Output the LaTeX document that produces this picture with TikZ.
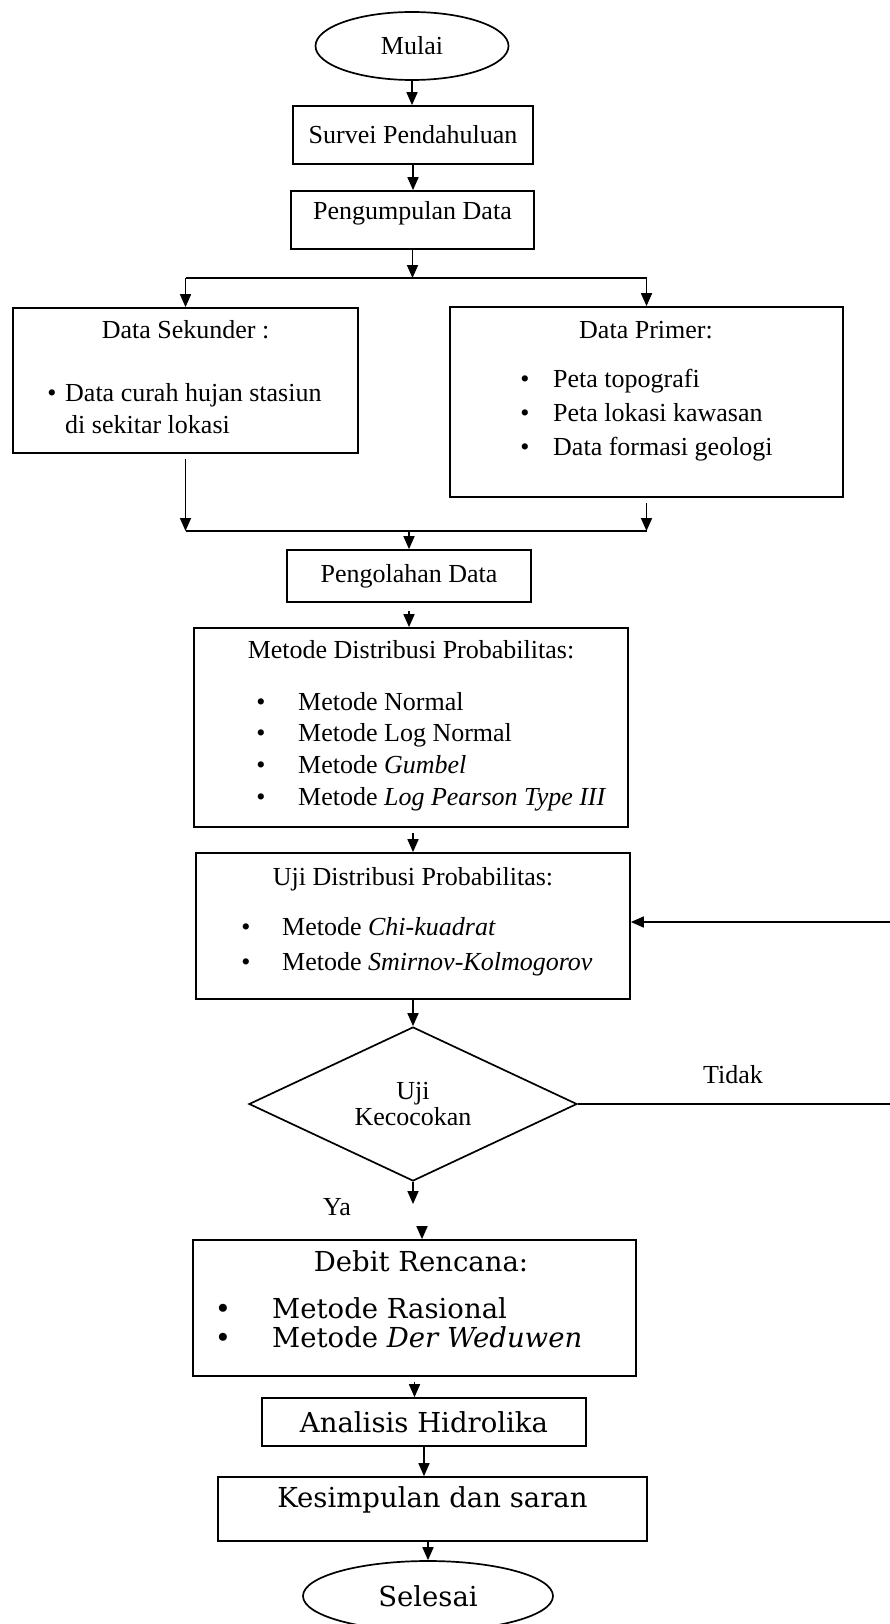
\documentclass[tikz,border=0pt]{standalone}
\usepackage{fontspec}
\setmainfont{Liberation Serif}
\newfontfamily\bookfont{DejaVu Serif}
\usetikzlibrary{shapes.geometric,arrows.meta,calc}
\begin{document}
\begin{tikzpicture}[x=1pt,y=-1pt,
  every node/.style={font=\fontsize{26}{31}\selectfont},
  box/.style={draw, line width=1.7pt, rectangle, inner sep=0pt},
  term/.style={draw, line width=1.7pt, ellipse, inner sep=0pt},
  txt/.style={inner sep=0pt, anchor=base},
  txtl/.style={inner sep=0pt, anchor=base west},
  bk/.style={font=\bookfont\fontsize{27.5}{33}\selectfont},
  arr/.style={line width=1.7pt, -{Triangle[width=11pt,length=13pt]}},
  ln/.style={line width=1.7pt},
]
\fill[white] (0,0) rectangle (889,1624);
\useasboundingbox (0,0) rectangle (889,1624);

% top
\node[term, minimum width=193pt, minimum height=68pt] (start) at (412,46) {Mulai};
\node[box, minimum width=240pt, minimum height=58pt] (survei) at (413,135) {Survei Pendahuluan};
\node[box, minimum width=243pt, minimum height=58pt, text height=18pt, text depth=20pt] (kumpul) at (412.5,220) {Pengumpulan Data};

\draw[arr] (start.south) -- (start.south |- survei.north);
\draw[arr] (survei.south) -- (survei.south |- kumpul.north);

% split
\coordinate (split) at (413,278);
\node[box, minimum width=345pt, minimum height=145pt] (sek) at (185.5,380.5) {};
\node[box, minimum width=393pt, minimum height=190pt] (pri) at (646.5,402) {};
\draw[arr] (kumpul.south) -- (kumpul.south |- split);
\draw[ln] (sek.north |- split) -- (pri.north |- split);
\draw[arr] (sek.north |- split) -- (sek.north);
\draw[arr] (pri.north |- split) -- (pri.north);

\node[txt] (sekT) at (185.5,338) {Data Sekunder :};
\node[txt] (sekB) at (52,401) {\textbullet};
\node[txtl] (sek1) at (65,401) {Data curah hujan stasiun};
\node[txtl] (sek2) at (65,433) {di sekitar lokasi};

\node[txt] (priT) at (646,338) {Data Primer:};
\node[txt] (priB1) at (525,387) {\textbullet};
\node[txt] (priB2) at (525,421) {\textbullet};
\node[txt] (priB3) at (525,455) {\textbullet};
\node[txtl] (pri1) at (553,387) {Peta topografi};
\node[txtl] (pri2) at (553,421) {Peta lokasi kawasan};
\node[txtl] (pri3) at (553,455) {Data formasi geologi};

% merge
\coordinate (merge) at (409,531);
\node[box, minimum width=244pt, minimum height=52pt] (olah) at (409,576) {Pengolahan Data};
\draw[arr, shorten <=5pt] (sek.south) -- (sek.south |- merge);
\draw[arr, shorten <=5pt] (pri.south) -- (pri.south |- merge);
\draw[ln] (sek.south |- merge) -- (pri.south |- merge);
\draw[arr] (merge) -- (merge |- olah.north);

% distribution methods
\node[box, minimum width=434pt, minimum height=199pt] (dist) at (411,727.5) {};
\draw[arr, shorten <=8pt] (olah.south) -- (olah.south |- dist.north);
\node[txt] (distT) at (411,658) {Metode Distribusi Probabilitas:};
\node[txt] (distB1) at (261,710) {\textbullet};
\node[txt] (distB2) at (261,741) {\textbullet};
\node[txt] (distB3) at (261,773) {\textbullet};
\node[txt] (distB4) at (261,805) {\textbullet};
\node[txtl] (dist1) at (298,710) {Metode Normal};
\node[txtl] (dist2) at (298,741) {Metode Log Normal};
\node[txtl] (dist3) at (298,773) {Metode \textit{Gumbel}};
\node[txtl] (dist4) at (298,805) {Metode \textit{Log Pearson Type III}};

% test
\node[box, minimum width=434pt, minimum height=146pt] (uji) at (413,926) {};
\draw[arr, shorten <=5pt] (uji.north |- dist.south) -- (uji.north);
\node[txt] (ujiT) at (413,885) {Uji Distribusi Probabilitas:};
\node[txt] (ujiB1) at (246,935) {\textbullet};
\node[txt] (ujiB2) at (246,970) {\textbullet};
\node[txtl] (uji1) at (282,935) {Metode \textit{Chi-kuadrat}};
\node[txtl] (uji2) at (282,970) {Metode \textit{Smirnov-Kolmogorov}};

% decision
\node[draw, line width=1.7pt, diamond, aspect=2.13, minimum width=328pt, minimum height=154pt, inner sep=0pt, align=center] (dia) at (413,1104) {Uji\\[-5pt]Kecocokan};
\draw[arr] (uji.south) -- (uji.south |- dia.north);

\coordinate (fbB) at (894,1104);
\coordinate (fbT) at (894,922);
\draw[arr] (dia.east) -- (fbB) -- (fbT) -- (fbT -| uji.east);
\node[txt] (tidak) at (733,1083) {Tidak};

\node[txt] (ya) at (337,1215) {Ya};
\coordinate (yaEnd) at (413,1204);
\draw[arr] (dia.south) -- (yaEnd);

% design discharge
\node[box, minimum width=443pt, minimum height=136pt] (debit) at (414.5,1308) {};
\coordinate (stub) at (422,1228);
\draw[arr] (stub) -- (stub |- debit.north);
\node[txt,bk] (debT) at (421,1271) {Debit Rencana:};
\node[txt,bk] (debB1) at (223,1318) {\textbullet};
\node[txt,bk] (debB2) at (223,1347) {\textbullet};
\node[txtl,bk] (deb1) at (272,1318) {Metode Rasional};
\node[txtl,bk] (deb2) at (272,1347) {Metode \textit{Der Weduwen}};

\node[box,bk, minimum width=324pt, minimum height=48pt] (anal) at (424,1422) {Analisis Hidrolika};
\draw[arr, shorten <=5pt] (debit.south) -- (debit.south |- anal.north);

\node[box,bk, minimum width=429pt, minimum height=64pt, text height=20pt, text depth=24pt] (simp) at (432.5,1509) {Kesimpulan dan saran};
\draw[arr] (anal.south) -- (anal.south |- simp.north);

\node[term,bk, minimum width=250pt, minimum height=70pt] (finish) at (428,1596) {Selesai};
\draw[arr] (finish.north |- simp.south) -- (finish.north);
\end{tikzpicture}
\end{document}
